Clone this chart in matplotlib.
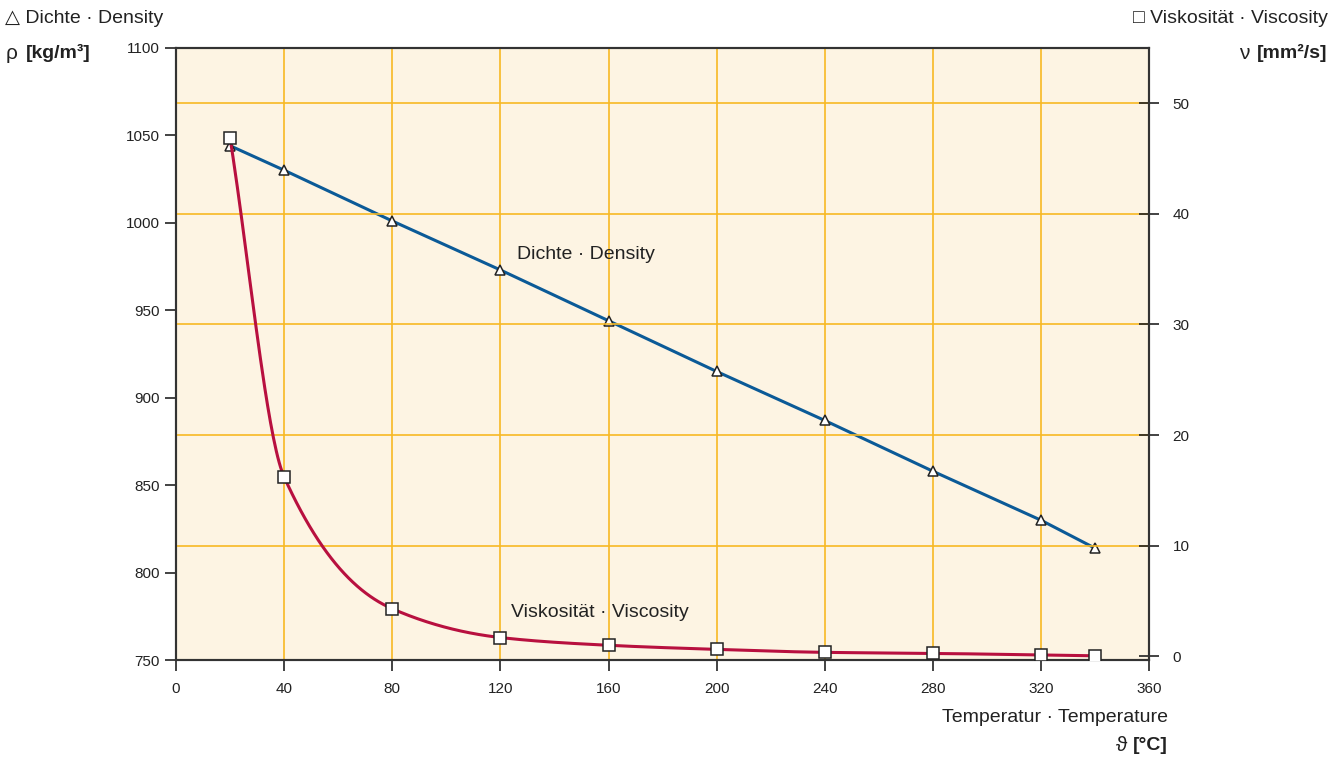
import numpy as np
import matplotlib.pyplot as plt

plt.rcParams['font.family'] = ['Liberation Sans', 'DejaVu Sans']

temp = [20, 40, 80, 120, 160, 200, 240, 280, 320, 340]
density = [1044, 1030, 1001, 973, 944, 915, 887, 858, 830, 814]
viscosity = [46.8, 16.2, 4.3, 1.7, 1.0, 0.63, 0.36, 0.27, 0.12, 0.05]

x_ticks = [0, 40, 80, 120, 160, 200, 240, 280, 320, 360]
rho_ticks = [750, 800, 850, 900, 950, 1000, 1050, 1100]
nu_ticks = [0, 10, 20, 30, 40, 50]

BG = '#fdf4e3'
GRID = '#f7b924'
BLUE = '#0b5a97'
RED = '#b8103f'
INK = '#222222'


def pchip(x, y, xs):
    # monotone cubic (Fritsch-Carlson) so the curve does not overshoot
    x = np.asarray(x, float)
    y = np.asarray(y, float)
    h = np.diff(x)
    d = np.diff(y) / h
    m = np.zeros_like(y)
    for k in range(1, len(x) - 1):
        if d[k - 1] * d[k] > 0:
            w1 = 2 * h[k] + h[k - 1]
            w2 = h[k] + 2 * h[k - 1]
            m[k] = (w1 + w2) / (w1 / d[k - 1] + w2 / d[k])
    m[0] = d[0]
    m[-1] = d[-1]
    idx = np.clip(np.searchsorted(x, xs) - 1, 0, len(h) - 1)
    t = (xs - x[idx]) / h[idx]
    h00 = 2 * t**3 - 3 * t**2 + 1
    h10 = t**3 - 2 * t**2 + t
    h01 = -2 * t**3 + 3 * t**2
    h11 = t**3 - t**2
    return h00 * y[idx] + h10 * h[idx] * m[idx] + h01 * y[idx + 1] + h11 * h[idx] * m[idx + 1]


fig = plt.figure(figsize=(13.44, 7.58), dpi=100)
ax = fig.add_axes([0.131, 0.129, 0.724, 0.808])
ax2 = ax.twinx()

ax.set_facecolor(BG)
ax.set_xlim(0, 360)
ax.set_ylim(750, 1100)
ax2.set_ylim(-0.35, 55)

ax.set_xticks(x_ticks)
ax.set_yticks(rho_ticks)
ax2.set_yticks(nu_ticks)

# vertical grid from temperature ticks, horizontal grid from viscosity ticks
for xv in x_ticks[1:-1]:
    ax.axvline(xv, color=GRID, lw=1.2, zorder=1)
for nv in nu_ticks[1:]:
    ax2.axhline(nv, color=GRID, lw=1.2, zorder=1)

ax.tick_params(axis='both', labelsize=11, colors=INK, length=8, width=1.2, direction='out')
ax.tick_params(axis='x', pad=8)
ax2.tick_params(axis='y', labelsize=11, colors=INK, length=14, width=1.2, direction='inout', pad=10)
for a in (ax, ax2):
    for s in a.spines.values():
        s.set_color('#333333')
        s.set_linewidth(1.5)

# density
ax.plot(temp, density, color=BLUE, lw=2.2, zorder=3)
ax.plot(temp, density, ls='none', marker='^', ms=7, mfc='white', mec=INK, mew=1.1, zorder=4)

# viscosity, smooth curve through the measured points
xs = np.linspace(temp[0], temp[-1], 600)
ax2.plot(xs, pchip(temp, viscosity, xs), color=RED, lw=2.2, zorder=3)
ax2.plot(temp, viscosity, ls='none', marker='s', ms=8, mfc='white', mec=INK, mew=1.1, zorder=4)

ax.text(126, 982, 'Dichte · Density', fontsize=14, color=INK, va='center', zorder=5)
ax2.text(124, 4.0, 'Viskosität · Viscosity', fontsize=14, color=INK, va='center', zorder=5)

fig.text(0.004, 0.976, '\u25b3 Dichte · Density', fontsize=14, color=INK, va='center')
fig.text(0.004, 0.930, '\u03c1', fontsize=15, color=INK, va='center')
fig.text(0.019, 0.930, '[kg/m\u00b3]', fontsize=14, fontweight='bold', color=INK, va='center')
fig.text(0.988, 0.976, '\u25a1 Viskosität · Viscosity', fontsize=14, color=INK, va='center', ha='right')
fig.text(0.988, 0.930, '[mm\u00b2/s]', fontsize=14, fontweight='bold', color=INK, va='center', ha='right')
fig.text(0.930, 0.930, '\u03bd', fontsize=15, color=INK, va='center', ha='right')
fig.text(0.869, 0.054, 'Temperatur · Temperature', fontsize=14, color=INK, va='center', ha='right')
fig.text(0.869, 0.016, '[°C]', fontsize=14, fontweight='bold', color=INK, va='center', ha='right')
fig.text(0.8385, 0.016, '\u03d1', fontsize=15, color=INK, va='center', ha='right')

fig.savefig('out.png', dpi=100, facecolor='white')
